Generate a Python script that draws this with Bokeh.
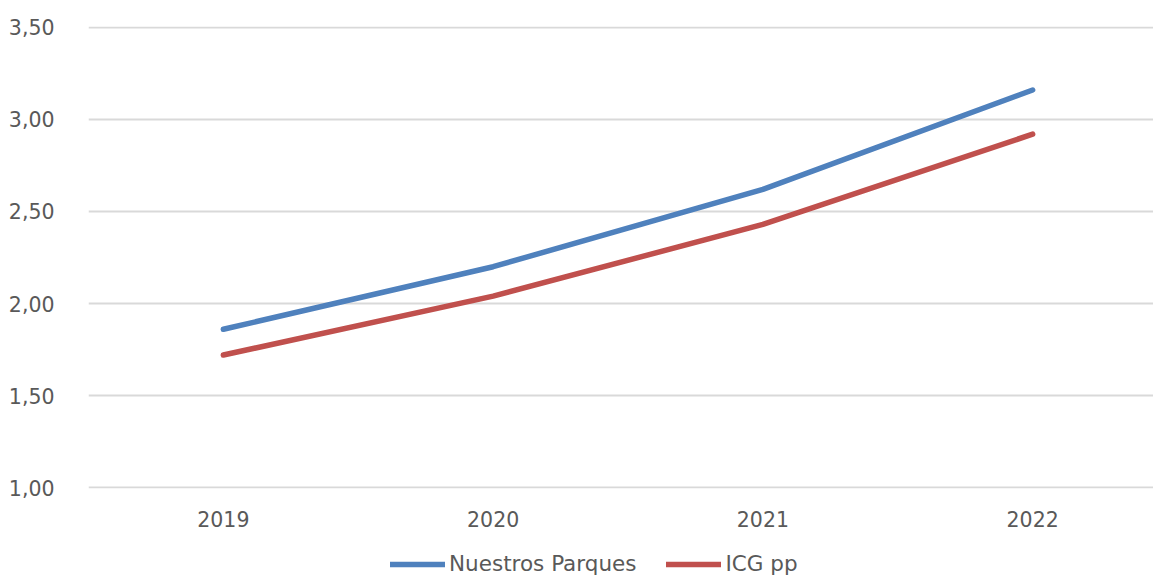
from bokeh.plotting import figure
from bokeh.layouts import column
from bokeh.models import FixedTicker, Legend, LegendItem, Range1d
from bokeh.embed import file_html
from bokeh.resources import INLINE

years = ["2019", "2020", "2021", "2022"]
nuestros_parques = [1.86, 2.20, 2.62, 3.16]
icg_pp = [1.72, 2.04, 2.43, 2.92]
y_ticks = [1.0, 1.5, 2.0, 2.5, 3.0, 3.5]
series_names = ["Nuestros Parques", "ICG pp"]
series_colors = ["#4F81BD", "#C0504D"]

FONT = "DejaVu Sans"
TXT = "#595959"

x = list(range(len(years)))

p = figure(width=1153, height=536, output_backend="svg", toolbar_location=None,
           x_range=Range1d(-0.5, 3.448), y_range=Range1d(0.995, 3.505),
           min_border_left=88, min_border_right=0, min_border_top=26, min_border_bottom=48)
p.outline_line_color = None
p.background_fill_color = "white"
p.border_fill_color = "white"

p.line(x, nuestros_parques, line_color=series_colors[0], line_width=5.5, line_cap="round", line_join="round")
p.line(x, icg_pp, line_color=series_colors[1], line_width=5.5, line_cap="round", line_join="round")

p.xaxis.ticker = FixedTicker(ticks=x)
p.xaxis.major_label_overrides = {i: y for i, y in enumerate(years)}
p.yaxis.ticker = FixedTicker(ticks=y_ticks)
p.yaxis.major_label_overrides = {t: f"{t:.2f}".replace(".", ",") for t in y_ticks}

for ax in (p.xaxis[0], p.yaxis[0]):
    ax.axis_line_color = None
    ax.major_tick_line_color = None
    ax.minor_tick_line_color = None
    ax.major_label_text_font = FONT
    ax.major_label_text_font_size = "20.5px"
    ax.major_label_text_color = TXT
p.yaxis.major_label_standoff = 28
p.xaxis.major_label_standoff = 16

p.xgrid.grid_line_color = None
p.ygrid.grid_line_color = "#D9D9D9"
p.ygrid.grid_line_width = 2

# legend strip (its frame is aligned with the main frame, starting at x=88)
q = figure(width=1153, height=40, output_backend="svg", toolbar_location=None,
           x_range=Range1d(0, 1), y_range=Range1d(0, 1),
           min_border_left=0, min_border_right=0, min_border_top=0, min_border_bottom=0)
q.axis.visible = False
q.grid.grid_line_color = None
q.outline_line_color = None
r1 = q.line([-5, -4], [-5, -5], line_color=series_colors[0], line_width=5.5, line_cap="round")
r2 = q.line([-5, -4], [-5, -5], line_color=series_colors[1], line_width=5.5, line_cap="round")

legend = Legend(items=[LegendItem(label=series_names[0], renderers=[r1]),
                       LegendItem(label=series_names[1], renderers=[r2])],
                orientation="horizontal", location=(302, 0),
                glyph_width=55, glyph_height=20, label_standoff=4, spacing=30,
                padding=0, margin=0, border_line_color=None, background_fill_alpha=0,
                label_text_font=FONT, label_text_font_size="21.5px", label_text_color=TXT)
q.add_layout(legend, "center")

open("out.html", "w").write(file_html(column(p, q, spacing=0), INLINE))
